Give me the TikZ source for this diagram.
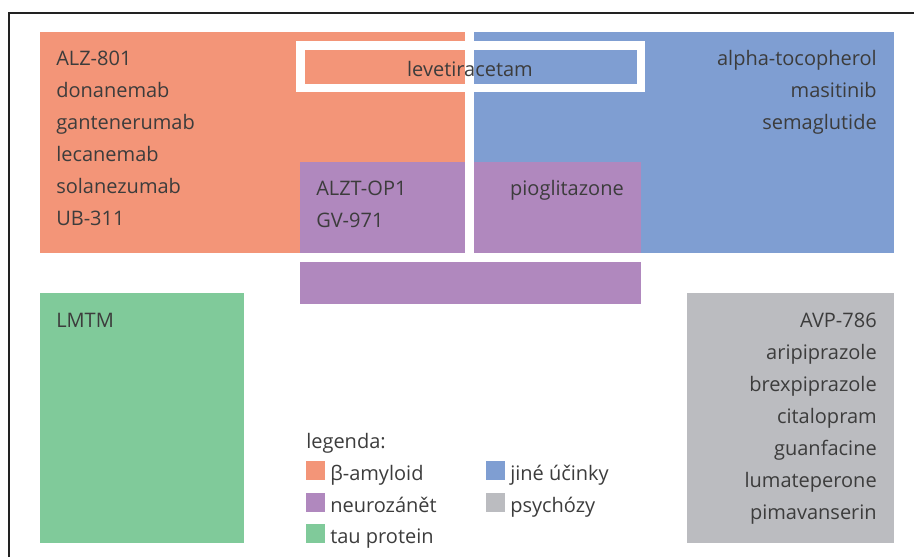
\documentclass[tikz,border=0pt]{standalone}
\usepackage{fontspec}
\setmainfont{Open Sans}
\usepackage{tikz}
\usetikzlibrary{calc}

\definecolor{amyl}{HTML}{F39578}
\definecolor{jine}{HTML}{7F9ED2}
\definecolor{zanet}{HTML}{B088BE}
\definecolor{tau}{HTML}{80CA9A}
\definecolor{psych}{HTML}{BBBCC0}
\definecolor{txtgray}{HTML}{3C3C3C}
\definecolor{framecol}{HTML}{222222}

\tikzset{drug/.style={font=\fontsize{15}{18}\selectfont, text=txtgray, inner sep=0pt}}

\newcommand{\field}[5]{ \fill[#5] ( #1 , #2 ) rectangle ( #3 , #4 );}
\newcommand{\drugL}[4]{\node[drug,anchor=base west] (#1) at ( #2 , #3 ) {#4};}
\newcommand{\drugR}[4]{\node[drug,anchor=base east] (#1) at ( #2 , #3 ) {#4};}
\newcommand{\legitem}[5]{ \fill[#4] ( #2 , #3-19 ) rectangle ( #2+19 , #3 ); \node[drug,anchor=base west] (#1) at ( #2+24 , #3 ) {#5};}

\begin{document}
\begin{tikzpicture}[x=0.75pt,y=-0.75pt]
        \useasboundingbox (0,0) rectangle (914,557);
        \draw[framecol, line width=1.1pt] (9,557) -- (9,13) -- (914,13);

        % top fields
        \field{40}{32}{465}{253}{amyl}
        \field{474}{32}{894}{253}{jine}
        \field{300}{162}{465}{253}{zanet}
        \field{474}{162}{641}{253}{zanet}
        \field{300}{262}{641}{304}{zanet}
        % bottom fields
        \field{40}{293}{244}{543}{tau}
        \field{687}{293}{894}{543}{psych}

        % levetiracetam frame
        \draw[white, line width=6.4pt] (300.5,45.5) rectangle (641,88);
        \node[drug,anchor=base] (leve) at (470,76) {levetiracetam};

        % col 1
        \drugL{alz}{56}{65}{ALZ-801}
        \drugL{dona}{56}{97}{donanemab}
        \drugL{gant}{56}{129}{gantenerumab}
        \drugL{leca}{56}{161}{lecanemab}
        \drugL{sola}{56}{193}{solanezumab}
        \drugL{ub}{56}{225}{UB-311}
        % col 2
        \drugL{alzt}{316}{195}{ALZT-OP1}
        \drugL{gv}{316}{227}{GV-971}
        \drugR{piog}{624}{195}{pioglitazone}
        % col 3
        \drugR{alph}{877}{65}{alpha-tocopherol}
        \drugR{masi}{877}{97}{masitinib}
        \drugR{sema}{877}{129}{semaglutide}

        % tau
        \drugL{lmtm}{56}{327}{LMTM}
        % psychozy
        \drugR{avp}{877}{327}{AVP-786}
        \drugR{arip}{877}{359}{aripiprazole}
        \drugR{brex}{877}{391}{brexpiprazole}
        \drugR{cita}{877}{423}{citalopram}
        \drugR{guan}{877}{455}{guanfacine}
        \drugR{luma}{877}{487}{lumateperone}
        \drugR{pima}{877}{519}{pimavanserin}

        % legenda
        \node[drug,anchor=base west] (leg) at (306,448) {legenda:};
        \legitem{lamyl}{306}{480}{amyl}{β-amyloid}
        \legitem{lzanet}{306}{512}{zanet}{neurozánět}
        \legitem{ltau}{306}{543}{tau}{tau protein}
        \legitem{ljine}{486}{480}{jine}{jiné účinky}
        \legitem{lpsych}{486}{512}{psych}{psychózy}

    \end{tikzpicture}
\end{document}
